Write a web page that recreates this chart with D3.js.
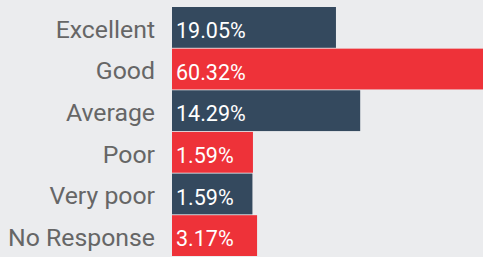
<!DOCTYPE html>
<html>
<head>
<meta charset="utf-8">
<script src="https://cdn.jsdelivr.net/npm/d3@7"></script>
<style>
  body { margin: 0; background: #ebecee; }
  svg { display: block; font-family: Roboto, sans-serif; }
</style>
</head>
<body>
<div id="chart"></div>
<script>
// categories and the percentages printed on the bars
const categories = ["Excellent", "Good", "Average", "Poor", "Very poor", "No Response"];
const valueLabels = ["19.05%", "60.32%", "14.29%", "1.59%", "1.59%", "3.17%"];
// bar lengths as drawn in the picture (same units as the axis, Good = full width)
const barValues = [31.8, 62.0, 36.5, 15.7, 15.6, 16.5];
const barColors = ["#34495e", "#ee3239", "#34495e", "#ee3239", "#34495e", "#ee3239"];

const width = 483;
const height = 257;
const margin = { top: 7, right: 0, bottom: 1, left: 172 };

const svg = d3.select("#chart")
  .append("svg")
  .attr("width", width)
  .attr("height", height);

// scales
const xScale = d3.scaleLinear()
  .domain([0, 60.32])
  .range([margin.left, margin.left + 311]);

const yScale = d3.scaleBand()
  .domain(categories)
  .range([margin.top, height - margin.bottom])
  .paddingInner(0.02);

// bars
svg.selectAll(".bar")
  .data(categories)
  .enter().append("rect")
  .attr("class", "bar")
  .attr("x", xScale(0))
  .attr("y", d => yScale(d))
  .attr("width", (d, i) => xScale(barValues[i]) - xScale(0))
  .attr("height", yScale.bandwidth())
  .attr("fill", (d, i) => barColors[i]);

// value labels inside bars
svg.selectAll(".value")
  .data(categories)
  .enter().append("text")
  .attr("class", "value")
  .attr("x", xScale(0) + 4)
  .attr("y", d => yScale(d) + yScale.bandwidth() / 2)
  .attr("dy", "0.5em")
  .attr("font-size", "21.5px")
  .attr("fill", "#ffffff")
  .text((d, i) => valueLabels[i]);

// category axis labels
const yAxis = d3.axisLeft(yScale).tickSize(0).tickPadding(17);

svg.append("g")
  .attr("transform", `translate(${margin.left}, 0)`)
  .call(yAxis)
  .call(g => g.select(".domain").remove())
  .selectAll("text")
  .attr("font-family", "Roboto, sans-serif")
  .attr("font-size", "24.8px")
  .attr("fill", "#666666")
  .attr("dy", "0.42em");
</script>
</body>
</html>
